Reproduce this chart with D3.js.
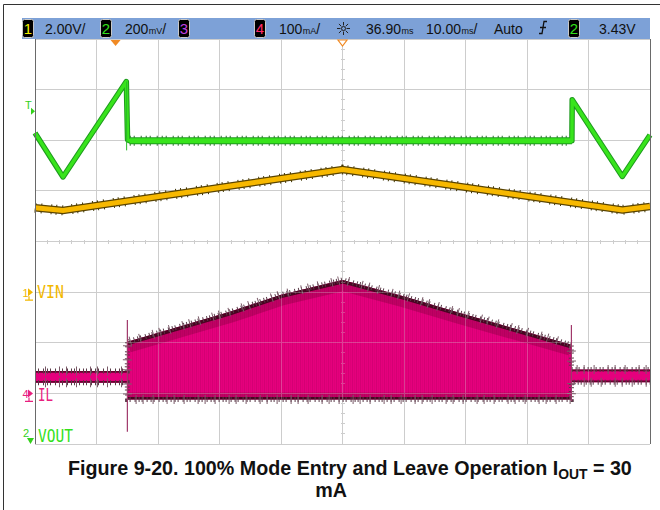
<!DOCTYPE html>
<html lang="en">
<head>
<meta charset="utf-8">
<title>Figure 9-20. 100% Mode Entry and Leave Operation</title>
<script src="https://cdn.jsdelivr.net/npm/d3@7"></script>
<style>
body { margin: 0; background: #fff; }
text { font-family: "Liberation Sans", Arial, sans-serif; }
.lbl { font-family: "DejaVu Sans Mono", monospace; }
</style>
</head>
<body>
<div id="chart"></div>
<script>
// scope settings
var timeDelay = 36.90;          // ms, screen centre
var timePerDiv = 10;            // ms/div
var ch1PerDiv = 2, ch1Offset = -1;      // VIN, V/div, ground at -1 div
var ch2PerDiv = 0.2, trigLevel = 3.43, trigDiv = 2.70;  // VOUT, trigger level position
var ch4PerDiv = 100, ch4Offset = -3;    // IL, mA/div, ground at -3 div

// header texts
var chNum = ["1", "2", "3", "4"];
var chScale = [["2.00", "V", "/"], ["200", "mV", "/"], null, ["100", "mA", "/"]];
var timeLabels = [["36.90", "ms", ""], ["10.00", "ms", "/"]];
var trigMode = "Auto";
var trigSrc = "2";
var trigText = "3.43V";

// VOUT (ch2), V
var voutT = [-13.1, -8.55, 1.75, 1.95, 2.3, 74.2, 74.25, 82.4, 86.9];
var voutV = [3.319, 3.145, 3.522, 3.292, 3.288, 3.288, 3.45, 3.147, 3.311];

// VIN (ch1), V
var vinT = [-13.1, -8.55, 36.9, 82.4, 86.9];
var vinV = [3.33, 3.23, 4.84, 3.25, 3.38];

// IL (ch4), mA envelope
var ilT  = [-13.1, 1.9, 1.95, 18.6, 26.9, 36.9, 47.1, 56.0, 74.1, 74.15, 86.9];
var ilHi = [44, 44, 102, 161, 195, 224, 191, 159, 96, 47, 47];
var ilLo = [21, 21, -12, -12, -12, -12, -12, -12, -12, 22, 22];
var ilSpikeT = [1.92, 74.12];
var ilSpikeHi = [145, 135];
var ilSpikeLo = [-76, -15];

var W = 660, H = 510;
var plot = {left: 35, right: 650, top: 39, bottom: 444};

var svg = d3.select("#chart").append("svg")
    .attr("width", W).attr("height", H);

var x = d3.scaleLinear()
    .domain([timeDelay - 5 * timePerDiv, timeDelay + 5 * timePerDiv])
    .range([plot.left, plot.right]);
var yDiv = d3.scaleLinear().domain([-4, 4]).range([plot.bottom, plot.top]);

var y1 = function(v) { return yDiv(ch1Offset + v / ch1PerDiv); };
var y2 = function(v) { return yDiv(trigDiv + (v - trigLevel) / ch2PerDiv); };
var y4 = function(v) { return yDiv(ch4Offset + v / ch4PerDiv); };

// outer frame
svg.append("path")
    .attr("d", "M3.5,510 V4.5 H660")
    .attr("fill", "none").attr("stroke", "#333");

var defs = svg.append("defs");
var pat = defs.append("pattern").attr("id", "stripes")
    .attr("patternUnits", "userSpaceOnUse").attr("width", 4).attr("height", 10);
pat.append("rect").attr("x", 0).attr("width", 1).attr("height", 10).attr("fill", "#5a0028");
pat.append("rect").attr("x", 2).attr("width", 0.6).attr("height", 10).attr("fill", "#7a0038");

// grid
var gridG = svg.append("g");
function drawGrid(g, col) {
    d3.range(0, 11).forEach(function(i) {
        var t = timeDelay + (i - 5) * timePerDiv;
        g.append("line").attr("x1", x(t)).attr("x2", x(t))
            .attr("y1", plot.top).attr("y2", plot.bottom)
            .attr("stroke", col).attr("shape-rendering", "crispEdges");
    });
    d3.range(-4, 5).forEach(function(d) {
        g.append("line").attr("x1", plot.left).attr("x2", plot.right)
            .attr("y1", yDiv(d)).attr("y2", yDiv(d))
            .attr("stroke", col).attr("shape-rendering", "crispEdges");
    });
    // minor ticks on centre axes
    d3.range(-4, 4.01, 0.2).forEach(function(d) {
        g.append("line").attr("x1", x(timeDelay) - 2).attr("x2", x(timeDelay) + 2)
            .attr("y1", yDiv(d)).attr("y2", yDiv(d))
            .attr("stroke", col).attr("shape-rendering", "crispEdges");
    });
    d3.range(-5, 5.01, 0.2).forEach(function(d) {
        var t = timeDelay + d * timePerDiv;
        g.append("line").attr("x1", x(t)).attr("x2", x(t))
            .attr("y1", yDiv(0) - 2).attr("y2", yDiv(0) + 2)
            .attr("stroke", col).attr("shape-rendering", "crispEdges");
    });
}
drawGrid(gridG, "#cdcdcd");

// ---- IL (ch4) ----
var ilData = ilT.map(function(t, i) { return {t: t, hi: ilHi[i], lo: ilLo[i]}; });
var ilArea = d3.area().x(function(d) { return x(d.t); })
    .y0(function(d) { return y4(d.lo); }).y1(function(d) { return y4(d.hi); });
var ilTop = d3.line().x(function(d) { return x(d.t); }).y(function(d) { return y4(d.hi); });
var ilBot = d3.line().x(function(d) { return x(d.t); }).y(function(d) { return y4(d.lo); });

defs.append("clipPath").attr("id", "ilclip").append("path").attr("d", ilArea(ilData));

var ilG = svg.append("g");
ilG.append("path").attr("d", ilArea(ilData)).attr("fill", "#e5007d");
var ilIn = ilG.append("g").attr("clip-path", "url(#ilclip)");
var env = ilData.slice(2, 9);
ilIn.append("rect").attr("x", x(ilT[2])).attr("width", x(ilT[8]) - x(ilT[2]))
    .attr("y", 0).attr("height", H).attr("fill", "url(#stripes)").attr("opacity", 0.12);
ilIn.append("path").attr("d", ilTop(env)).attr("fill", "none")
    .attr("stroke", "#6a002e").attr("stroke-width", 22).attr("stroke-opacity", 0.3);
ilIn.append("path").attr("d", ilTop(env)).attr("fill", "none")
    .attr("stroke", "#4a0522").attr("stroke-width", 7);
ilIn.append("path").attr("d", ilBot(env)).attr("fill", "none")
    .attr("stroke", "#70002f").attr("stroke-width", 14).attr("stroke-opacity", 0.3);
ilIn.append("path").attr("d", ilBot(env)).attr("fill", "none")
    .attr("stroke", "#4a0522").attr("stroke-width", 5);
// small bands before / after
[ilData.slice(0, 2), ilData.slice(9)].forEach(function(seg) {
    ilIn.append("path").attr("d", ilTop(seg)).attr("fill", "none")
        .attr("stroke", "#6a0030").attr("stroke-width", 3.5);
    ilIn.append("path").attr("d", ilBot(seg)).attr("fill", "none")
        .attr("stroke", "#6a0030").attr("stroke-width", 3.5);
});
// hairy edges
[ilTop, ilBot].forEach(function(ln) {
    ilG.append("path").attr("d", ln(ilData)).attr("fill", "none")
        .attr("stroke", "#5a3a48").attr("stroke-width", 5).attr("stroke-dasharray", "1 2 1 4 1 3");
    ilG.append("path").attr("d", ln(ilData)).attr("fill", "none")
        .attr("stroke", "#7a5a68").attr("stroke-width", 9).attr("stroke-dasharray", "1 9 1 13 1 6");
});
ilG.selectAll(".spike").data(ilSpikeT).enter().append("line")
    .attr("x1", function(d) { return x(d); }).attr("x2", function(d) { return x(d); })
    .attr("y1", function(d, i) { return y4(ilSpikeHi[i]); })
    .attr("y2", function(d, i) { return y4(ilSpikeLo[i]); })
    .attr("stroke", "#a0386a").attr("stroke-width", 1.2);

// faint grid over the current trace
var gridTop = svg.append("g").attr("opacity", 0.3).attr("clip-path", "url(#ilclip)");
drawGrid(gridTop, "#d8d8d8");

// ---- VIN (ch1) ----
var vinData = vinT.map(function(t, i) { return {t: t, v: vinV[i]}; });
var vinLine = d3.line().x(function(d) { return x(d.t); }).y(function(d) { return y1(d.v); });
var vinG = svg.append("g");
vinG.append("path").attr("d", vinLine(vinData)).attr("fill", "none")
    .attr("stroke", "#3a3000").attr("stroke-width", 10).attr("stroke-dasharray", "1 5 1 9 1 4");
vinG.append("path").attr("d", vinLine(vinData)).attr("fill", "none")
    .attr("stroke", "#5a4400").attr("stroke-width", 7.5);
vinG.append("path").attr("d", vinLine(vinData)).attr("fill", "none")
    .attr("stroke", "#f7b800").attr("stroke-width", 5);

// ---- VOUT (ch2) ----
var voutData = voutT.map(function(t, i) { return {t: t, v: voutV[i]}; });
var voutLine = d3.line().x(function(d) { return x(d.t); }).y(function(d) { return y2(d.v); });
var flat = voutData.slice(4, 6);
var voutG = svg.append("g");
voutG.append("path").attr("d", voutLine(flat)).attr("fill", "none")
    .attr("stroke", "#2a6a2a").attr("stroke-width", 10).attr("stroke-dasharray", "1 3 1 6 1 4");
voutG.append("path").attr("d", voutLine(voutData)).attr("fill", "none")
    .attr("stroke", "#1e9a1e").attr("stroke-width", 5.5).attr("stroke-linejoin", "round");
voutG.append("path").attr("d", voutLine(flat)).attr("fill", "none")
    .attr("stroke", "#1e9a1e").attr("stroke-width", 7);
voutG.append("path").attr("d", voutLine(voutData)).attr("fill", "none")
    .attr("stroke", "#38e41c").attr("stroke-width", 3.4).attr("stroke-linejoin", "round");
voutG.append("path").attr("d", voutLine(flat)).attr("fill", "none")
    .attr("stroke", "#38e41c").attr("stroke-width", 5);
voutG.append("line").attr("x1", x(1.8)).attr("x2", x(1.8))
    .attr("y1", y2(3.522)).attr("y2", y2(3.25))
    .attr("stroke", "#2ab82a").attr("stroke-width", 1);

// plot frame
svg.append("line").attr("x1", plot.left + 0.5).attr("x2", plot.left + 0.5)
    .attr("y1", plot.top).attr("y2", plot.bottom).attr("stroke", "#6a6a6a");
svg.append("line").attr("x1", plot.right + 0.5).attr("x2", plot.right + 0.5)
    .attr("y1", plot.top).attr("y2", plot.bottom).attr("stroke", "#6a6a6a");

// ---- header bar ----
var bar = svg.append("g");
bar.append("rect").attr("x", 22).attr("y", 18).attr("width", plot.right - 22).attr("height", 21)
    .attr("fill", "#7da1d7");
var chCol = ["#f4f000", "#33e11a", "#c040e0", "#ff2a6a"];
var boxX = [22, 100, 178, 254];
var scaleX = [45, 125, null, 279];
function chBox(bx, label, col) {
    bar.append("rect").attr("x", bx + 0.5).attr("y", 19.5).attr("width", 11).attr("height", 18)
        .attr("rx", 2).attr("fill", "#000").attr("stroke", "#c8c8c8");
    bar.append("text").attr("x", bx + 6).attr("y", 34).attr("text-anchor", "middle")
        .attr("font-size", 15).attr("fill", col).text(label);
}
function unitText(x0, parts) {
    var t = bar.append("text").attr("x", x0).attr("y", 34).attr("font-size", 14)
        .attr("fill", "#111");
    t.append("tspan").text(parts[0]);
    if (parts[1].length > 1) {
        t.append("tspan").attr("font-size", 9).attr("dx", 0.5).text(parts[1]);
    } else {
        t.append("tspan").text(parts[1]);
    }
    if (parts[2]) t.append("tspan").text(parts[2]);
}
chNum.forEach(function(n, i) {
    chBox(boxX[i], n, chCol[i]);
    if (chScale[i]) unitText(scaleX[i], chScale[i]);
});
// acquisition sun icon
var sun = bar.append("g").attr("transform", "translate(343.5,28.5)");
d3.range(0, 8).forEach(function(i) {
    var a = i * Math.PI / 4;
    sun.append("line").attr("x1", Math.cos(a) * 3).attr("y1", Math.sin(a) * 3)
        .attr("x2", Math.cos(a) * 6.5).attr("y2", Math.sin(a) * 6.5)
        .attr("stroke", "#222").attr("stroke-width", 1);
});
sun.append("circle").attr("r", 2).attr("fill", "none").attr("stroke", "#222");
unitText(366, timeLabels[0]);
unitText(426, timeLabels[1]);
bar.append("text").attr("x", 494).attr("y", 34).attr("font-size", 14).attr("fill", "#111").text(trigMode);
bar.append("path").attr("d", "M539,33.5 h3 l2,-12 h3 M540,27.5 h6")
    .attr("fill", "none").attr("stroke", "#111").attr("stroke-width", 1.3);
chBox(568, trigSrc, chCol[1]);
bar.append("text").attr("x", 599).attr("y", 34).attr("font-size", 14).attr("fill", "#111").text(trigText);

// trigger position and delay markers
svg.append("path").attr("d", "M" + (x(0) - 5) + ",40 h10 l-5,6 z").attr("fill", "#f08a24");
svg.append("path").attr("d", "M" + (x(timeDelay) - 4.5) + ",40 h9 l-4.5,6 z")
    .attr("fill", "#fff").attr("stroke", "#f08a24").attr("stroke-width", 1.2);

// ---- channel markers and labels ----
var ty = y2(trigLevel);
svg.append("text").attr("x", 25).attr("y", ty + 4).attr("font-size", 11).attr("fill", "#33d11a").text("T");
svg.append("path").attr("d", "M31," + (ty + 3) + " l4,3.5 l-4,3.5 z").attr("fill", "#33d11a");

function gndMarker(yy, num, col) {
    svg.append("text").attr("x", 22.5).attr("y", yy + 4.5).attr("font-size", 11)
        .attr("fill", col).text(num);
    svg.append("path").attr("d", "M28," + (yy - 4) + " l5,4 l-5,4 z").attr("fill", col);
    svg.append("path").attr("d", "M29," + (yy + 4) + " v4 M25," + (yy + 8) + " h8")
        .attr("fill", "none").attr("stroke", col).attr("stroke-width", 1.2);
}
gndMarker(y1(0), "1", "#f2b800");
gndMarker(y4(0), "4", "#e8207e");
svg.append("text").attr("x", 23).attr("y", 437).attr("font-size", 11).attr("fill", "#33d11a").text("2");
svg.append("path").attr("d", "M27,438 h7 l-3.5,6 z").attr("fill", "#33d11a");

function chLabel(xx, yy, txt, col, w) {
    svg.append("text").attr("class", "lbl").attr("x", xx).attr("y", yy)
        .attr("font-size", 17).attr("fill", col)
        .attr("textLength", w).attr("lengthAdjust", "spacingAndGlyphs").text(txt);
}
chLabel(37, y1(0) + 6, "VIN", "#f2b800", 27);
chLabel(38, y4(0) + 7.5, "IL", "#e8207e", 15);
chLabel(38, 442, "VOUT", "#33e11a", 35);

// ---- caption ----
var cap = svg.append("text").attr("x", 68).attr("y", 475)
    .attr("font-size", 17).attr("font-weight", "bold").attr("fill", "#111");
cap.append("tspan").text("Figure 9-20. 100% Mode Entry and Leave Operation I");
cap.append("tspan").attr("font-size", 12).attr("dy", 4).text("OUT");
cap.append("tspan").attr("dy", -4).text(" = 30");
var cw = cap.node().getComputedTextLength();
cap.attr("font-size", 17 * 564 / cw);
cap.selectAll("tspan").filter(function(d, i) { return i === 1; }).attr("font-size", 12 * 564 / cw);
svg.append("text").attr("x", 331).attr("y", 497).attr("text-anchor", "middle")
    .attr("font-size", 17 * 564 / cw).attr("font-weight", "bold").attr("fill", "#111").text("mA");
</script>
</body>
</html>
